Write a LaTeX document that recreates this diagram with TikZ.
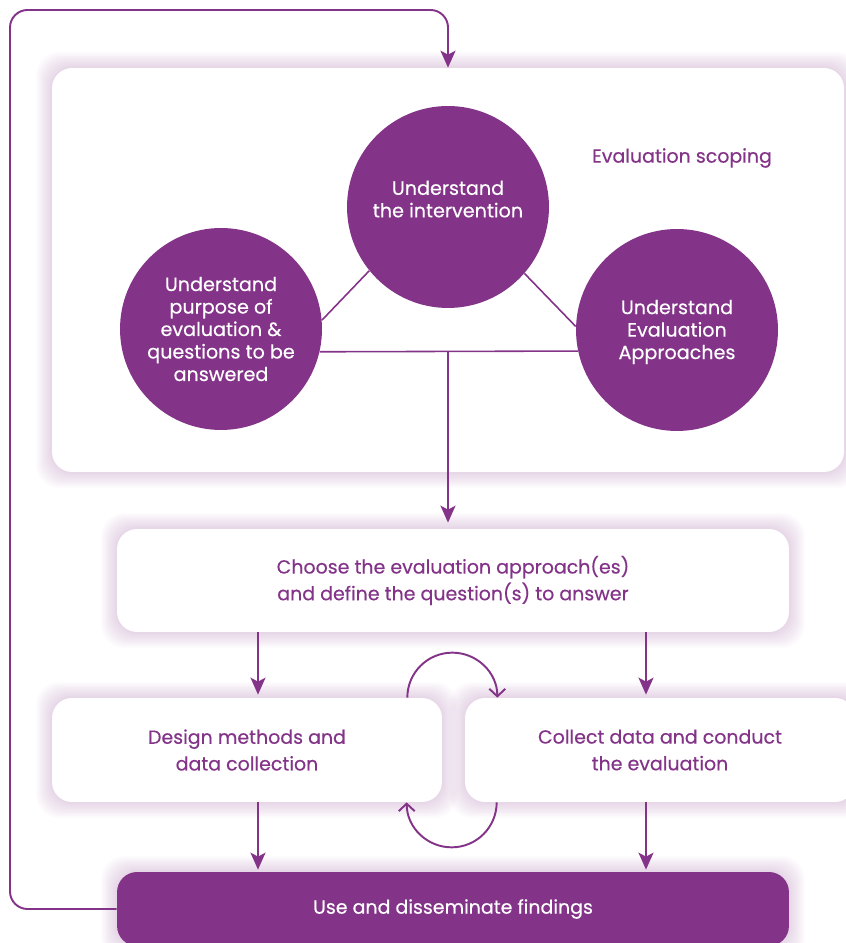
\documentclass[tikz,border=0pt]{standalone}
\usepackage{fontspec}
\setmainfont{Poppins}[FakeBold=0.35]
\usetikzlibrary{arrows.meta,backgrounds}
\definecolor{plum}{RGB}{131,51,136}

% soft lavender halo drawn under a card
\newcommand\glow[1]{%
  \foreach \g in {1,...,9}{%
    \fill[plum, opacity=0.022, rounded corners=0.45cm]
      ([shift={(-1.7*\g,-1.7*\g)}]#1.south west) rectangle
      ([shift={(1.7*\g,1.7*\g)}]#1.north east);}}

\begin{document}
\begin{tikzpicture}[
  x=0.02cm, y=0.02cm,
  link/.style={line width=0.9pt, plum},
  flow/.style={line width=1.1pt, plum,
               -{Stealth[length=0.34cm, width=0.3cm, inset=0.08cm]}},
  turn/.style={line width=1.1pt, plum,
               -{Straight Barb[length=0.15cm, width=0.32cm]}},
  card/.style={fill=white, rounded corners=0.4cm, inner sep=0pt,
               align=center, text=plum,
               font=\fontsize{10.8}{15.2}\selectfont},
  disc/.style={circle, fill=plum, minimum size=4.04cm, inner sep=0pt,
               align=center, text=white,
               font=\fontsize{10.9}{12.8}\selectfont},
  head/.style={text=plum, inner sep=0pt,
               font=\fontsize{10.8}{12}\selectfont}]

\useasboundingbox (0,0) rectangle (845,943);

% ============================ scoping panel =============================
\node[card, minimum width=15.84cm, minimum height=8.08cm] (scope) at (448,673) {};
\node[head] (title) at (682,785) {Evaluation scoping};

\node[disc, text depth=0.32cm] (intv) at (448,736) {Understand\\the intervention};
\node[disc] (purpose) at (221,614)
  {Understand\\purpose of\\evaluation \&\\questions to be\\answered};
\node[disc, text depth=0.02cm] (approach) at (677,613)
  {Understand\\Evaluation\\Approaches};

\draw[link] (intv.219) -- (purpose.5);
\draw[link] (intv.319) -- (approach.178);
\draw[link] (purpose.347.4) -- (approach.192);
\coordinate (hub) at (448,592);

% ============================ the cycle ================================
\node[card, minimum width=13.44cm, minimum height=2.06cm] (choose) at (453,362.5)
  {Choose the evaluation approach(es)\\and define the question(s) to answer};
\node[card, minimum width=7.8cm, minimum height=2.08cm] (design) at (247,193)
  {Design methods and\\data collection};
\node[card, minimum width=7.8cm, minimum height=2.08cm] (collect) at (660,193)
  {Collect data and conduct\\the evaluation};
\node[card, fill=plum, text=white, minimum width=13.44cm, minimum height=1.48cm]
  (use) at (453,34) {Use and disseminate findings};

\begin{scope}[on background layer]
  \foreach \bx in {scope,choose,design,collect,use}{\glow{\bx}}
\end{scope}

\coordinate (lcol) at (258,0);
\coordinate (rcol) at (646,0);
\draw[flow, shorten >=0.12cm] (hub) -- (choose.north -| hub);
\draw[flow, shorten >=0.06cm] (choose.south -| lcol) -- (design.north -| lcol);
\draw[flow, shorten >=0.06cm] (choose.south -| rcol) -- (collect.north -| rcol);
\draw[flow, shorten >=0.04cm] (design.south -| lcol) -- (use.north -| lcol);
\draw[flow, shorten >=0.04cm] (collect.south -| rcol) -- (use.north -| rcol);

% loop back between design and collection
\draw[turn] ([xshift=-0.7cm]design.north east)
  arc[start angle=180, end angle=0, radius=45];
\draw[turn] ([xshift=0.64cm]collect.south west)
  arc[start angle=0, end angle=-180, radius=45];

% findings feed the next round of scoping
\draw[flow, rounded corners=0.35cm] (use.west) -- (10,34) -- (10,933) -| (scope.north);

\end{tikzpicture}
\end{document}
